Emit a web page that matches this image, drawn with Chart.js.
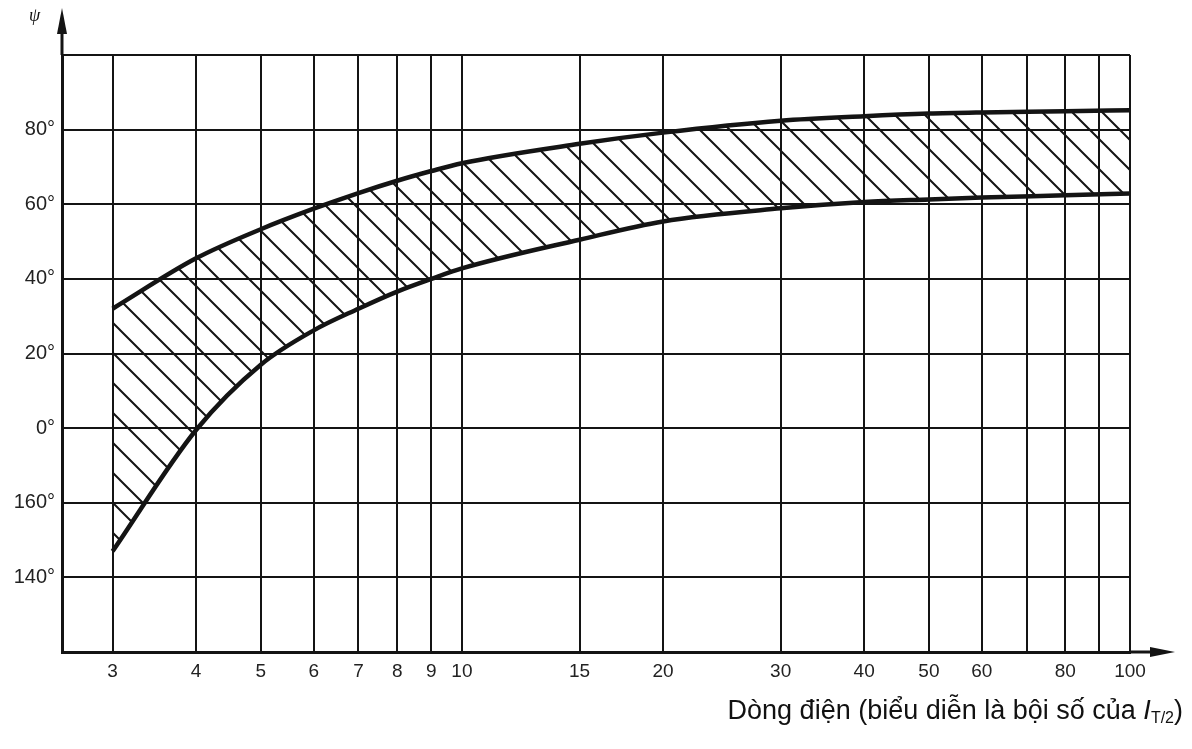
<!DOCTYPE html>
<html>
<head>
<meta charset="utf-8">
<script src="https://cdn.jsdelivr.net/npm/chart.js@4.4.1/dist/chart.umd.min.js"></script>
<style>
body{margin:0;background:#fff;}
#wrap{position:relative;width:1192px;height:749px;}
#psi{position:absolute;left:29px;top:5px;font:italic 18px "Liberation Serif","DejaVu Serif",serif;color:#111;}
#xtitle{position:absolute;left:0;top:694px;width:1183px;text-align:right;font:27px/32px "Liberation Sans",Arial,sans-serif;color:#111;}
#xtitle sub{font-size:16px;vertical-align:-4px;}
</style>
</head>
<body>
<div id="wrap">
<canvas id="chartPsi"></canvas>
<div id="psi">ψ</div>
<div id="xtitle">Dòng điện (biểu diễn là bội số của <i>I</i><sub>T/2</sub>)</div>
</div>
<script>

/* DONNEES */

let xValues=[3,4,5,6,7,8,9,10,15,20,30,40,50,60,80,100];
let upperCurve=[32,45.5,53.3,58.8,63,66.3,68.9,71,76.2,79.2,82.4,83.6,84.3,84.6,84.9,85.2];
let lowerCurve=[-33,-0.5,17,26.2,32,36.6,40,42.8,50.5,55.4,58.9,60.6,61.3,61.8,62.4,62.9];

let xTicks=[3,4,5,6,7,8,9,10,15,20,30,40,50,60,70,80,90,100];
let xTickLabels=["3","4","5","6","7","8","9","10","15","20","30","40","50","60","","80","","100"];

let yTicks=[-60,-40,-20,0,20,40,60,80,100];
let yTickLabels=["","140°","160°","0°","20°","40°","60°","80°",""];

let INK="#141414";
let FONT="'Liberation Sans', Arial, sans-serif";

/* HACHURES */

function hatch(){

let c=document.createElement('canvas');
c.width=30;
c.height=30;
let g=c.getContext('2d');
g.strokeStyle=INK;
g.lineWidth=2;
g.beginPath();
g.moveTo(-5,-5);g.lineTo(35,35);
g.moveTo(-5,25);g.lineTo(5,35);
g.moveTo(25,-5);g.lineTo(35,5);
g.stroke();
return g.createPattern(c,'repeat');

}

/* FLECHES DES AXES */

let arrows={
id:'arrows',
afterDraw(chart){

let ctx=chart.ctx;
let a=chart.chartArea;

ctx.save();
ctx.strokeStyle=INK;
ctx.fillStyle=INK;
ctx.lineWidth=3;

ctx.beginPath();
ctx.moveTo(a.left,a.top);
ctx.lineTo(a.left,22);
ctx.stroke();

ctx.beginPath();
ctx.moveTo(a.left,8);
ctx.lineTo(a.left-5,34);
ctx.lineTo(a.left+5,34);
ctx.closePath();
ctx.fill();

ctx.beginPath();
ctx.moveTo(a.right,a.bottom);
ctx.lineTo(1160,a.bottom);
ctx.stroke();

ctx.beginPath();
ctx.moveTo(1175,a.bottom);
ctx.lineTo(1150,a.bottom-5);
ctx.lineTo(1150,a.bottom+5);
ctx.closePath();
ctx.fill();

ctx.restore();

}
};

/* GRAPH */

new Chart(document.getElementById("chartPsi"),{

type:'line',

data:{
datasets:[
{
data:xValues.map((x,i)=>({x:x,y:upperCurve[i]})),
borderColor:INK,
borderWidth:4.5,
pointRadius:0,
cubicInterpolationMode:'monotone',
fill:'+1',
backgroundColor:hatch()
},
{
data:xValues.map((x,i)=>({x:x,y:lowerCurve[i]})),
borderColor:INK,
borderWidth:4.5,
pointRadius:0,
cubicInterpolationMode:'monotone',
fill:false
}
]
},

options:{
responsive:true,
maintainAspectRatio:false,
animation:false,
layout:{padding:{top:55,right:62,left:0,bottom:0}},

plugins:{
legend:{display:false},
tooltip:{enabled:false}
},

scales:{
x:{
type:'logarithmic',
min:2.52,
max:100,
afterBuildTicks:s=>{s.ticks=xTicks.map(v=>({value:v}));},
afterFit:s=>{s.height=97;},
grid:{color:INK,lineWidth:2,drawTicks:false},
border:{color:INK,width:3},
ticks:{
autoSkip:false,
maxRotation:0,
padding:8,
color:"#222",
font:{family:FONT,size:19},
callback:v=>{let i=xTicks.indexOf(v);return i<0?"":xTickLabels[i];}
}
},
y:{
min:-60,
max:100,
afterBuildTicks:s=>{s.ticks=yTicks.map(v=>({value:v}));},
afterFit:s=>{s.width=62;},
grid:{color:INK,lineWidth:2,drawTicks:false},
border:{color:INK,width:3},
ticks:{
padding:7,
color:"#222",
font:{family:FONT,size:20},
callback:v=>{let i=yTicks.indexOf(v);return i<0?"":yTickLabels[i];}
}
}
}

},

plugins:[arrows]

});

</script>
</body>
</html>
